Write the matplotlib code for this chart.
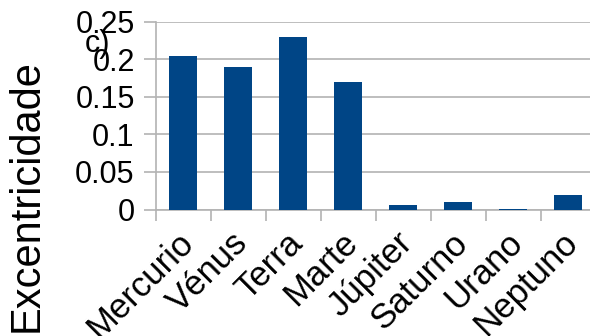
import matplotlib
matplotlib.use('Agg')
import matplotlib.pyplot as plt
import numpy as np
from matplotlib.transforms import ScaledTranslation

plt.rcParams['font.family'] = ['Liberation Sans', 'DejaVu Sans']

planetas = ['Mercurio', 'Vénus', 'Terra', 'Marte', 'Júpiter', 'Saturno', 'Urano', 'Neptuno']
excentricidade = [0.205, 0.19, 0.23, 0.17, 0.006, 0.01, 0.001, 0.019]
yticks = [0, 0.05, 0.1, 0.15, 0.2, 0.25]
ytick_labels = ['0', '0.05', '0.1', '0.15', '0.2', '0.25']

grid_cor = '#b3b3b3'
barra_cor = '#004586'

fig = plt.figure(figsize=(5.9, 3.36), dpi=100)
# eixo ligeiramente mais largo que a figura (a ultima categoria fica cortada)
ax = fig.add_axes([155.5 / 590, (336 - 209.5) / 336, 440 / 590, 187.8 / 336])

x = np.arange(len(planetas))
ax.bar(x, excentricidade, width=0.5, color=barra_cor, zorder=3)

ax.set_xlim(-0.5, len(planetas) - 0.5)
ax.set_ylim(0, 0.25)
ax.set_yticks(yticks)
ax.set_yticklabels(ytick_labels)

# marcas nas fronteiras das categorias, nomes ao centro
ax.set_xticks(np.arange(len(planetas) + 1) - 0.5)
ax.set_xticklabels([])
ax.set_xticks(x, minor=True)
ax.set_xticklabels(planetas, minor=True, rotation=45, ha='right', va='top',
                   rotation_mode='anchor', fontsize=25)
ax.tick_params(axis='x', which='minor', length=0, pad=12)
ax.tick_params(axis='x', which='major', length=8, color=grid_cor, width=1.2)
ax.tick_params(axis='y', length=9, color=grid_cor, width=1.2, labelsize=22, pad=6)

desloca = ScaledTranslation(-7 / 100, 0, fig.dpi_scale_trans)
for lbl in ax.get_xticklabels(minor=True):
    lbl.set_transform(lbl.get_transform() + desloca)

ax.grid(axis='y', color=grid_cor, linewidth=1.2, zorder=0)
for lado in ['top', 'right']:
    ax.spines[lado].set_visible(False)
for lado in ['left', 'bottom']:
    ax.spines[lado].set_color(grid_cor)
    ax.spines[lado].set_linewidth(1.2)

fig.text(27 / 590, 1 - 196 / 336, 'Excentricidade', rotation=90, fontsize=30,
         ha='center', va='center')
fig.text(98 / 590, 1 - 44 / 336, 'c)', fontsize=22, ha='center', va='center')

fig.savefig('out.png', dpi=100)
